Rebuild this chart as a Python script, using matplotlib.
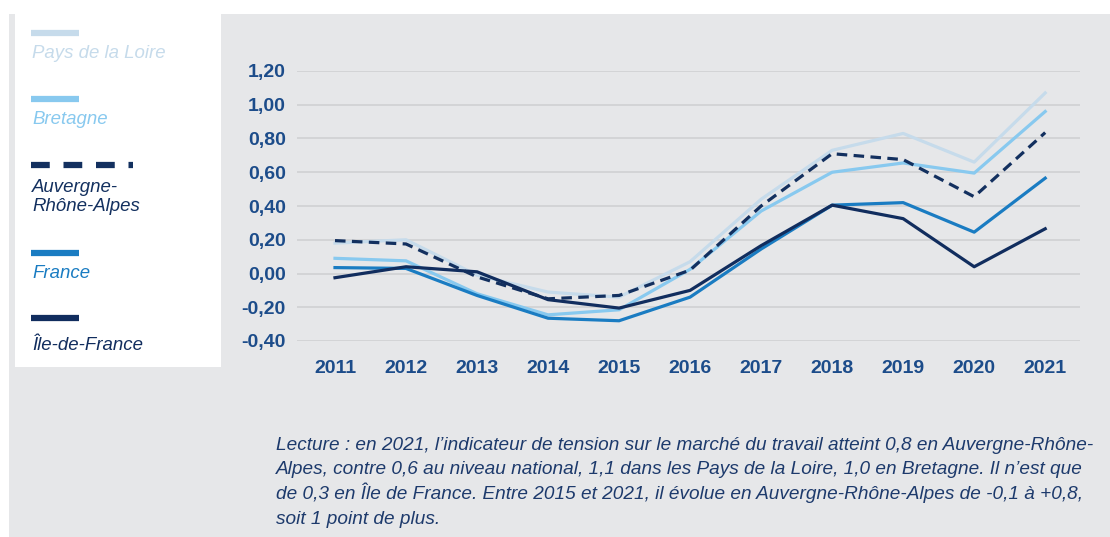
import numpy as np
import matplotlib
matplotlib.use("Agg")
import matplotlib.pyplot as plt
from matplotlib.patches import Rectangle

plt.rcParams['font.family'] = ['Liberation Sans', 'DejaVu Sans']

# ----- data ----- #
years = [2011, 2012, 2013, 2014, 2015, 2016, 2017, 2018, 2019, 2020, 2021]
pays_loire = [0.18, 0.20, -0.01, -0.11, -0.14, 0.07, 0.44, 0.73, 0.83, 0.66, 1.07]
bretagne = [0.09, 0.075, -0.12, -0.245, -0.215, 0.025, 0.37, 0.60, 0.655, 0.595, 0.96]
auvergne = [0.195, 0.175, -0.02, -0.15, -0.13, 0.02, 0.40, 0.71, 0.675, 0.455, 0.835]
france = [0.035, 0.03, -0.13, -0.265, -0.28, -0.14, 0.145, 0.405, 0.42, 0.245, 0.565]
idf = [-0.025, 0.04, 0.01, -0.155, -0.205, -0.10, 0.165, 0.405, 0.325, 0.04, 0.265]

series_names = ['Pays de la Loire', 'Bretagne', 'Auvergne-\nRhône-Alpes', 'France', 'Île-de-France']
series_vals = [pays_loire, bretagne, auvergne, france, idf]
colors = ['#c6dbeb', '#88c9ef', '#13305f', '#1a7cc2', '#112d5e']
dashed = [False, False, True, False, False]

y_ticks = [-0.4, -0.2, 0.0, 0.2, 0.4, 0.6, 0.8, 1.0, 1.2]
note_lines = ["Lecture : en 2021, l\u2019indicateur de tension sur le marché du travail atteint 0,8 en Auvergne-Rhône-",
              "Alpes, contre 0,6 au niveau national, 1,1 dans les Pays de la Loire, 1,0 en Bretagne. Il n\u2019est que",
              "de 0,3 en Île de France. Entre 2015 et 2021, il évolue en Auvergne-Rhône-Alpes de -0,1 à +0,8,",
              "soit 1 point de plus."]

W, H = 1110, 537
tick_col = '#1c4c8a'
bg = '#e6e7e9'

fig = plt.figure(figsize=(W / 100, H / 100), dpi=100, facecolor='white')

# ----- background panels ----- #
fig.patches.append(Rectangle((9 / W, 0), 1, (H - 14) / H, transform=fig.transFigure,
                             facecolor=bg, edgecolor='none', zorder=-10))
fig.patches.append(Rectangle((15 / W, (H - 367) / H), 206 / W, 1, transform=fig.transFigure,
                             facecolor='white', edgecolor='none', zorder=-9))

# ----- main chart ----- #
ax = fig.add_axes([297 / W, (H - 341) / H, 783 / W, 270 / H])
ax.set_facecolor('none')
for vals, c, d in zip(series_vals, colors, dashed):
    if d:
        ax.plot(years, vals, color=c, lw=2.3, linestyle=(0, (3.3, 2.0)), zorder=3)
    else:
        ax.plot(years, vals, color=c, lw=2.3, zorder=2)

ax.set_xlim(2010.465, 2021.49)
ax.set_ylim(-0.4, 1.2)
ax.set_xticks(years)
ax.set_xticklabels([str(y) for y in years])
ax.set_yticks(y_ticks)
ax.set_yticklabels(['{:.2f}'.format(v).replace('.', ',').replace('-0,00', '0,00') for v in y_ticks])
ax.tick_params(length=0, labelsize=14, labelcolor=tick_col)
ax.tick_params(axis='x', pad=14)
ax.tick_params(axis='y', pad=8)
for lab in ax.get_xticklabels() + ax.get_yticklabels():
    lab.set_fontweight('bold')
ax.grid(axis='y', color='#d2d3d5', lw=1.3)
ax.set_axisbelow(True)
for s in ax.spines.values():
    s.set_visible(False)

# ----- legend panel (pixel coords) ----- #
lg = fig.add_axes([0, 0, 1, 1])
lg.set_xlim(0, W)
lg.set_ylim(H, 0)
lg.set_facecolor('none')
lg.axis('off')
line_y = [33, 99, 165, 253, 318]
text_y = [53, 119, 197, 274, 346]
for name, c, d, ly, ty in zip(series_names, colors, dashed, line_y, text_y):
    if d:
        lg.plot([31, 133], [ly, ly], color=c, lw=4.5, linestyle=(0, (3.0, 2.2)))
    else:
        lg.plot([31, 79], [ly, ly], color=c, lw=4.5, solid_capstyle='butt')
    lg.text(32, ty, name, color=c, fontsize=13.4, style='italic', va='center', ha='left',
            linespacing=1.2)

# ----- reading note, one line at a time for even spacing ----- #
for i, txt in enumerate(note_lines):
    lg.text(276, 450 + i * 24.5, txt, fontsize=13.7, style='italic', color='#1d3a6c',
            va='baseline', ha='left')

fig.savefig('out.png', dpi=100, facecolor='white')
